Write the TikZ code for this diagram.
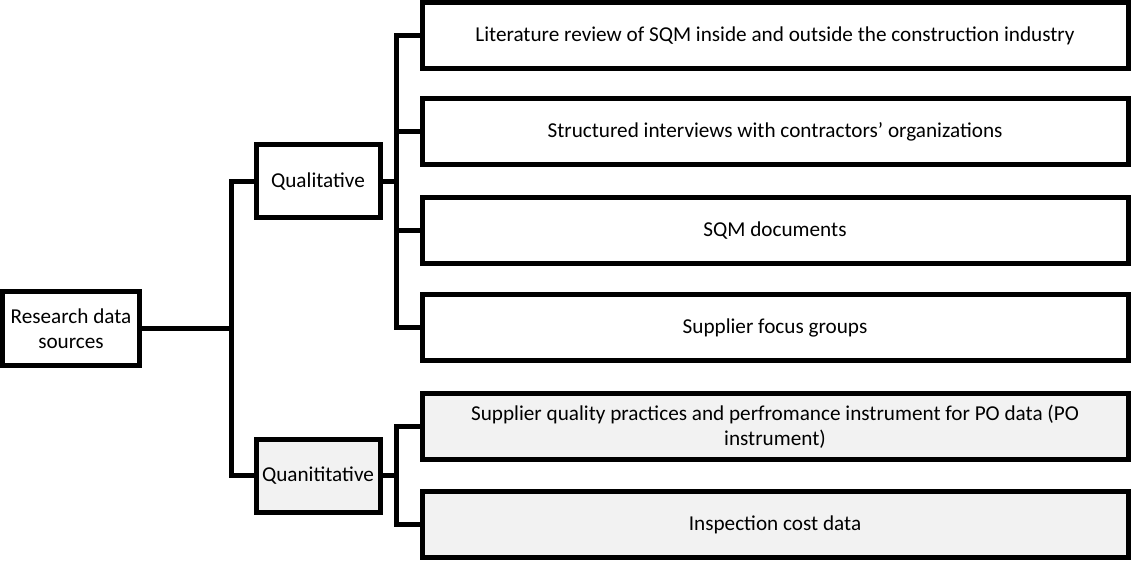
\documentclass[tikz,border=0pt]{standalone}
\usepackage{fontspec}
\setmainfont{Carlito}
\begin{document}
\begin{tikzpicture}[x=1pt,y=-1pt,
  box/.style={draw=black, line width=5pt, fill=white, outer sep=0pt, inner sep=2pt,
    align=center, font=\fontsize{21.2}{25}\selectfont},
  greybox/.style={box, fill=boxgrey},
  leafbox/.style={minimum width=706pt, minimum height=66pt},
  midbox/.style={minimum width=124pt, minimum height=73pt},
  link/.style={draw=black, line width=5pt}]
\definecolor{boxgrey}{HTML}{F2F2F2}
\useasboundingbox (0,0) rectangle (1132,561);

% root
\node[box, minimum width=137pt, minimum height=74pt] (rds) at (71,328.5) {Research data\\sources};

% second level
\node[box, midbox] (qual) at (318,181.5) {Qualitative};
\node[greybox, midbox] (quan) at (318,475.5) {Quanititative};

% qualitative sources
\node[box, leafbox] (c1) at (775,35.5) {Literature review of SQM inside and outside the construction industry};
\node[box, leafbox] (c2) at (775,131.5) {Structured interviews with contractors’ organizations};
\node[box, leafbox] (c3) at (775,230.5) {SQM documents};
\node[box, leafbox] (c4) at (775,327.5) {Supplier focus groups};

% quantitative sources
\node[greybox, leafbox] (c5) at (775,426.5) {Supplier quality practices and perfromance instrument for PO data (PO\\instrument)};
\node[greybox, leafbox] (c6) at (775,524.5) {Inspection cost data};

% connectors
\coordinate (trunk) at (231,328.5);
\coordinate (qb) at (396,181.5);
\coordinate (nb) at (396,475.5);

\draw[link] (rds.east) -- (trunk);
\draw[link] (qual.west) -| (trunk) |- (quan.west);

\draw[link] (qual.east) -- (qb);
\draw[link] (c1.west) -| (qb) |- (c4.west);
\draw[link] (qb) |- (c2.west);
\draw[link] (qb) |- (c3.west);

\draw[link] (quan.east) -- (nb);
\draw[link] (c5.west) -| (nb) |- (c6.west);
\end{tikzpicture}
\end{document}
